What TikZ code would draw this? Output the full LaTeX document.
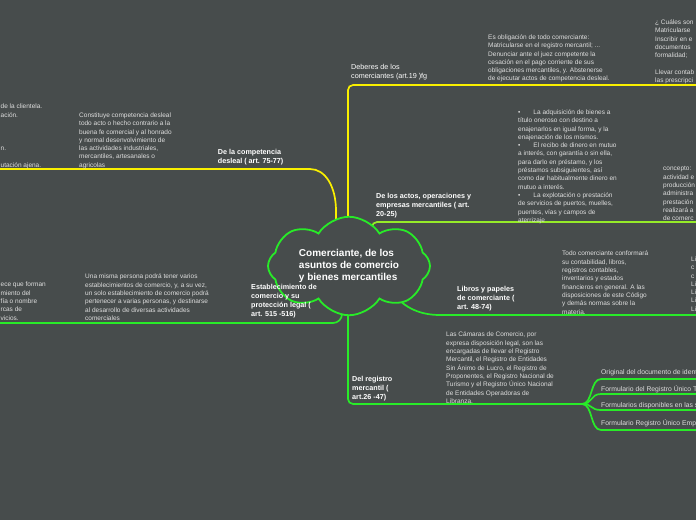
\documentclass[tikz,border=0pt]{standalone}
\usepackage{fontspec}
\setmainfont{Liberation Sans}
\usetikzlibrary{shapes.symbols, positioning, calc}
\definecolor{slate}{RGB}{71,76,76}
\definecolor{ylw}{RGB}{250,240,0}
\definecolor{grn}{RGB}{40,235,40}
\definecolor{lgrn}{RGB}{150,235,40}
\definecolor{txt}{RGB}{222,222,222}
\pgfdeclarelayer{bg}
\pgfdeclarelayer{links}
\pgfsetlayers{bg,links,main}

\begin{document}
\begin{tikzpicture}[x=1pt, y=-1pt,
    topic/.style={cloud, draw=grn, line width=1.8pt, fill=slate, cloud puffs=8, cloud puff arc=115, aspect=1.9, minimum width=162pt, minimum height=84pt, inner sep=0pt, text=white, align=left, font=\fontsize{10}{12}\selectfont\bfseries},
    branch/.style={anchor=north west, inner sep=0pt, text=white, align=left, font=\fontsize{7.2}{9}\selectfont\bfseries},
    plainbranch/.style={branch, font=\fontsize{7.2}{9}\selectfont},
    note/.style={anchor=north west, inner sep=0pt, text=txt, align=left, font=\fontsize{6.5}{8.3}\selectfont},
    leaf/.style={anchor=north west, inner sep=0pt, text=txt, font=\fontsize{6.8}{8}\selectfont},
    ylink/.style={draw=ylw, line width=1.7pt, rounded corners=5pt},
    glink/.style={draw=grn, line width=1.7pt, rounded corners=5pt},
    lglink/.style={draw=lgrn, line width=1.7pt, rounded corners=5pt}
]
\useasboundingbox (0,0) rectangle (696,520);
\clip (0,0) rectangle (696,520);
\begin{pgfonlayer}{bg}
\fill[slate] (0,0) rectangle (696,520);
\end{pgfonlayer}

% central topic
\node[topic] (root) at (349,266) {Comerciante, de los\\asuntos de comercio\\y bienes mercantiles};

% De la competencia desleal
\node[branch] (comp) at (217.7,149) {De la competencia\\desleal ( art. 75-77)};
\node[note] (compText) at (79,112.5) {Constituye competencia desleal\\todo acto o hecho contrario a la\\buena fe comercial y al honrado\\y normal desenvolvimiento de\\las actividades industriales,\\mercantiles, artesanales o\\agricolas};
\node[note] (compFrag) at (0.5,104) {de la clientela.\\ación.\\\mbox{}\\\mbox{}\\\mbox{}\\n.\\\mbox{}\\utación ajena.};
\coordinate (compEnd) at (0,169);

% Deberes de los comerciantes
\node[plainbranch] (deb) at (351,64.5) {Deberes de los\\comerciantes (art.19 )fg};
\node[note] (debText) at (488,34.5) {Es obligación de todo comerciante:\\Matricularse en el registro mercantil; ...\\Denunciar ante el juez competente la\\cesación en el pago corriente de sus\\obligaciones mercantiles, y. Abstenerse\\de ejecutar actos de competencia desleal.};
\node[note] (debFrag) at (655,19.5) {¿ Cuáles son\\Matricularse\\Inscribir en e\\documentos\\formalidad;\\\mbox{}\\Llevar contab\\las prescripci};
\coordinate (debEnd) at (696,85);

% De los actos, operaciones y empresas mercantiles
\node[branch] (act) at (376,193.5) {De los actos, operaciones y\\empresas mercantiles ( art.\\20-25)};
\node[note] (actText) at (518,109.5) {•\hspace{13pt}La adquisición de bienes a\\título oneroso con destino a\\enajenarlos en igual forma, y la\\enajenación de los mismos.\\•\hspace{13pt}El recibo de dinero en mutuo\\a interés, con garantía o sin ella,\\para darlo en préstamo, y los\\préstamos subsiguientes, así\\como dar habitualmente dinero en\\mutuo a interés.\\•\hspace{13pt}La explotación o prestación\\de servicios de puertos, muelles,\\puentes, vías y campos de\\aterrizaje};
\node[note] (actFrag) at (663,166.5) {concepto:\\actividad e\\producción\\administra\\prestación\\realizará a\\de comerc};
\coordinate (actEnd) at (696,222);

% Libros y papeles de comerciante
\node[branch] (lib) at (457,286.5) {Libros y papeles\\de comerciante (\\art. 48-74)};
\node[note] (libText) at (562,251) {Todo comerciante conformará\\su contabilidad, libros,\\registros contables,\\inventarios y estados\\financieros en general. A las\\disposiciones de este Código\\y demás normas sobre la\\materia.};
\node[note] (libFrag) at (691,256.5) {Li\\c\\c\\Li\\Li\\Li\\Li};
\coordinate (libEnd) at (696,315);

% Establecimiento de comercio
\node[branch] (est) at (251,284.5) {Establecimiento de\\comercio y su\\protección legal (\\art. 515 -516)};
\node[note] (estText) at (85,274) {Una misma persona podrá tener varios\\establecimientos de comercio, y, a su vez,\\un solo establecimiento de comercio podrá\\pertenecer a varias personas, y destinarse\\al desarrollo de diversas actividades\\comerciales};
\node[note] (estFrag) at (0.5,282) {ece que forman\\miento del\\fía o nombre\\rcas de\\vicios.};
\coordinate (estEnd) at (0,323);

% Del registro mercantil
\node[branch] (reg) at (352,376.5) {Del registro\\mercantil (\\art.26 -47)};
\node[note] (regText) at (446,332) {Las Cámaras de Comercio, por\\expresa disposición legal, son las\\encargadas de llevar el Registro\\Mercantil, el Registro de Entidades\\Sin Ánimo de Lucro, el Registro de\\Proponentes, el Registro Nacional de\\Turismo y el Registro Único Nacional\\de Entidades Operadoras de\\Libranza.};
\coordinate (regFork) at (582,404);
\node[leaf] (doc1) at (601,369) {Original del documento de identidad};
\node[leaf] (doc2) at (601,385) {Formulario del Registro Único Tributario};
\node[leaf] (doc3) at (601,402) {Formularios disponibles en las sedes};
\node[leaf] (doc4) at (601,419.5) {Formulario Registro Único Empresarial};

\begin{pgfonlayer}{links}
\draw[ylink] ($(root.center)+(-13,0)$) -- ++(0,-50) .. controls +(0,-30) and (325,169) .. (305,169) -- (compEnd);
\draw[ylink] ($(root.center)+(-1,0)$) |- (debEnd);
\draw[lglink] ($(root.center)+(23,0)$) |- (actEnd);
\draw[glink] ($(root.center)+(30,0)$) -- (390,290) .. controls (405,308) and (420,315) .. (445,315) -- (libEnd);
\draw[glink, rounded corners=9pt] ($(root.center)+(-7,0)$) |- (estEnd);
\draw[glink] ($(root.center)+(-1,0)$) |- (regFork);
\foreach \n/\y in {doc1/379, doc2/394, doc3/410, doc4/430}
  \draw[glink, rounded corners=0pt] (regFork) .. controls +(11,0) and +(-11,0) .. (\n.west |- 0,\y) -- (696,\y);
\end{pgfonlayer}
\end{tikzpicture}
\end{document}
